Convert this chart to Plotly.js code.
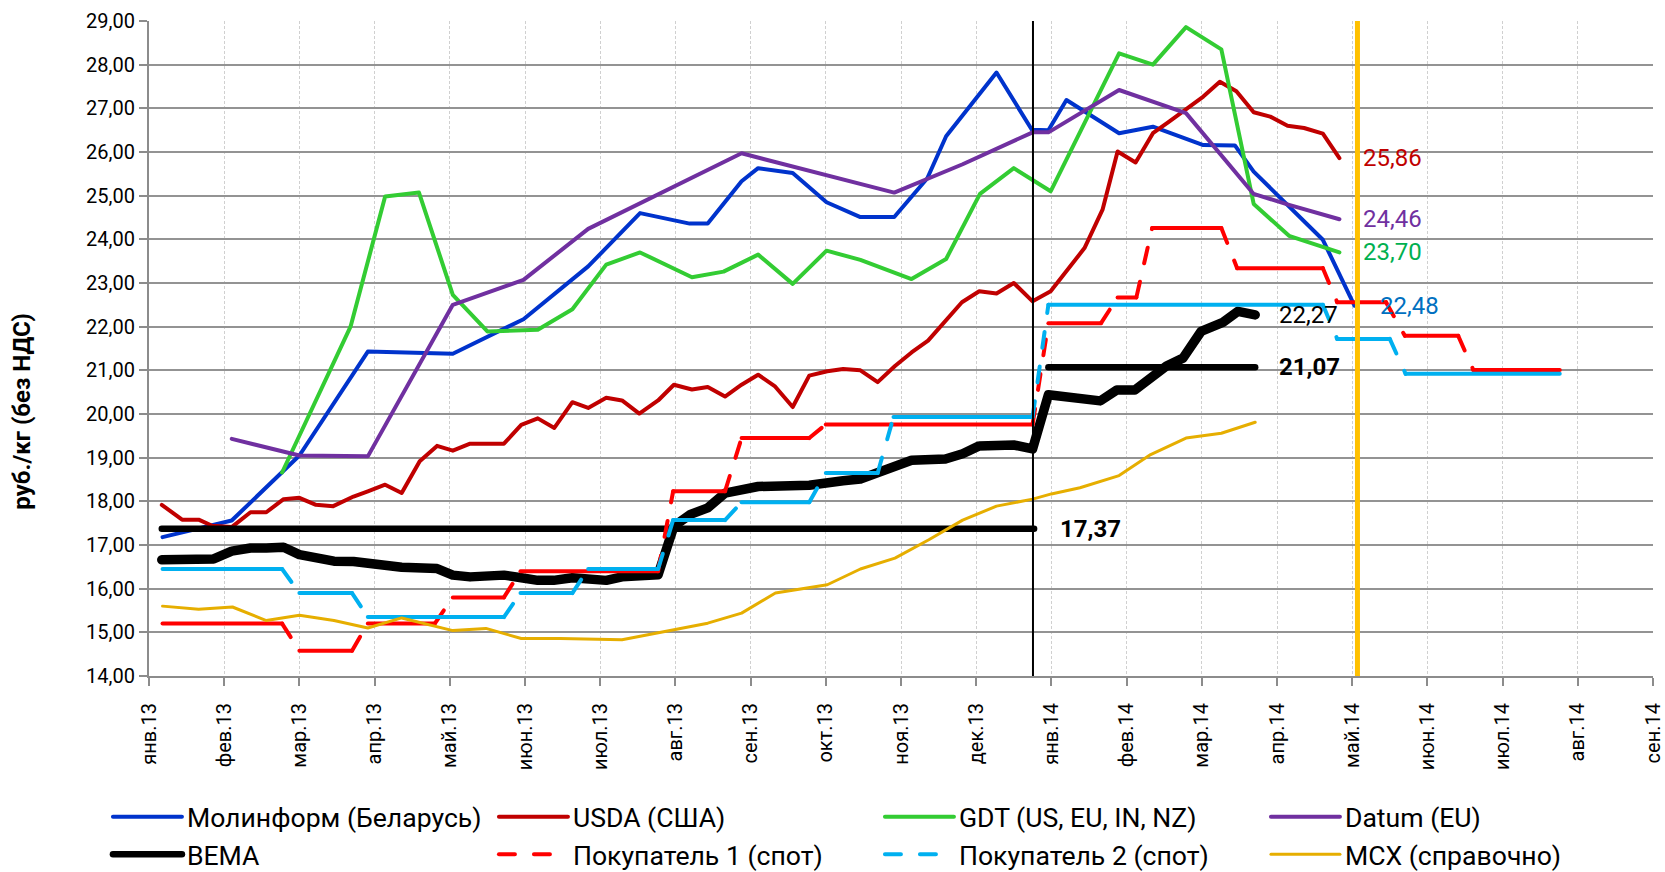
<!DOCTYPE html>
<html>
<head>
<meta charset="utf-8">
<script src="https://cdn.plot.ly/plotly-3.0.1.min.js"></script>
<style>
html,body{margin:0;padding:0;background:#ffffff;}
#chart{width:1665px;height:872px;}
.js-plotly-plot .scatterlayer .js-line,
.js-plotly-plot .legendlines .js-line{stroke-linecap:round;stroke-linejoin:round;}
</style>
</head>
<body>
<div id="chart"></div>
<script>
// ---- axis labels (x = month index, 0 = Jan 2013) ----
const monthIdx = [0,1,2,3,4,5,6,7,8,9,10,11,12,13,14,15,16,17,18,19,20];
const monthLabels = ['янв.13','фев.13','мар.13','апр.13','май.13','июн.13','июл.13','авг.13','сен.13','окт.13','ноя.13','дек.13',
                     'янв.14','фев.14','мар.14','апр.14','май.14','июн.14','июл.14','авг.14','сен.14'];

// ---- series ----
const molX = [0.18,1.10,2.00,2.91,4.04,4.98,5.84,6.53,7.19,7.43,7.88,8.10,8.56,9.01,9.46,9.91,10.35,10.60,11.27,11.74,11.96,12.20,12.90,13.35,14.02,14.44,14.69,15.61,16.03];
const molY = [17.18,17.56,19.05,21.43,21.38,22.17,23.38,24.60,24.36,24.36,25.33,25.63,25.52,24.85,24.51,24.51,25.40,26.36,27.82,26.51,26.50,27.19,26.43,26.58,26.16,26.15,25.55,23.99,22.48];

const usdaX = [0.17,0.44,0.66,0.84,1.10,1.35,1.56,1.79,2.00,2.22,2.45,2.72,2.91,3.14,3.36,3.60,3.83,4.04,4.27,4.49,4.72,4.95,5.17,5.39,5.63,5.84,6.08,6.29,6.52,6.77,6.98,7.22,7.43,7.66,7.88,8.10,8.32,8.56,8.78,9.02,9.23,9.46,9.69,9.92,10.14,10.36,10.56,10.81,11.04,11.27,11.50,11.75,11.99,12.21,12.44,12.68,12.88,13.12,13.35,13.57,13.79,14.02,14.24,14.46,14.69,14.91,15.14,15.36,15.61,15.83];
const usdaY = [17.92,17.58,17.58,17.44,17.41,17.75,17.75,18.05,18.08,17.92,17.89,18.11,18.23,18.38,18.19,18.92,19.27,19.16,19.32,19.31,19.32,19.75,19.90,19.68,20.27,20.14,20.37,20.31,20.01,20.31,20.67,20.56,20.62,20.40,20.67,20.90,20.64,20.16,20.88,20.98,21.03,21.00,20.73,21.10,21.41,21.68,22.08,22.56,22.81,22.76,23.00,22.58,22.81,23.30,23.80,24.68,26.01,25.76,26.43,26.70,26.98,27.27,27.61,27.39,26.91,26.81,26.60,26.55,26.42,25.86];

const gdtX = [1.77,2.68,3.14,3.59,4.04,4.50,5.17,5.63,6.08,6.53,7.22,7.64,8.10,8.56,9.01,9.46,10.14,10.60,11.05,11.50,11.99,12.90,13.35,13.79,14.26,14.69,15.16,15.83];
const gdtY = [18.66,22.00,24.98,25.07,22.73,21.89,21.93,22.40,23.42,23.70,23.13,23.26,23.65,22.98,23.74,23.53,23.09,23.55,25.04,25.63,25.10,28.26,28.00,28.86,28.35,24.81,24.08,23.70];

const datumX = [1.10,2.00,2.91,4.04,4.98,5.84,7.88,9.91,10.82,11.75,11.96,12.90,13.79,14.69,15.16,15.83];
const datumY = [19.43,19.05,19.03,22.50,23.07,24.24,25.97,25.07,25.72,26.45,26.45,27.42,26.89,25.04,24.79,24.46];

const bemaX = [0.17,0.42,0.86,1.10,1.35,1.56,1.79,2.00,2.23,2.46,2.72,2.91,3.14,3.36,3.83,4.04,4.27,4.72,4.95,5.17,5.38,5.63,6.08,6.29,6.77,6.98,7.20,7.43,7.66,7.88,8.10,8.78,9.02,9.23,9.46,9.69,10.14,10.59,10.82,11.04,11.27,11.50,11.75,11.96,12.65,12.87,13.11,13.53,13.75,13.99,14.28,14.48,14.71];
const bemaY = [16.66,16.67,16.68,16.86,16.93,16.93,16.95,16.78,16.68,16.63,16.62,16.59,16.50,16.49,16.46,16.31,16.27,16.31,16.25,16.19,16.19,16.25,16.19,16.27,16.32,17.43,17.70,17.85,18.19,18.28,18.34,18.37,18.45,18.47,18.51,18.65,18.94,18.97,19.09,19.27,19.27,19.29,19.20,20.44,20.30,20.55,20.55,21.10,21.28,21.89,22.10,22.35,22.27];

// BEMA reference levels: [start, end, value]
const bemaRefStart = [0.17, 11.96];
const bemaRefEnd   = [11.77, 14.71];
const bemaRefValue = [17.37, 21.07];

const buyer1X = [0.18,1.77,2.00,2.70,2.91,3.80,4.04,4.72,4.94,6.77,6.97,7.66,7.88,8.78,9.00,11.75,11.96,12.66,12.88,13.13,13.34,14.26,14.47,15.61,15.80,16.45,16.70,17.41,17.61,18.76];
const buyer1Y = [15.20,15.20,14.58,14.58,15.20,15.20,15.80,15.80,16.40,16.40,18.23,18.23,19.45,19.45,19.76,19.76,22.08,22.08,22.67,22.67,24.26,24.26,23.34,23.34,22.56,22.56,21.79,21.79,21.01,21.01];

const buyer2X = [0.18,1.77,2.00,2.70,2.91,4.72,4.94,5.63,5.84,6.77,6.97,7.66,7.88,8.78,9.00,9.69,9.90,11.75,11.96,15.61,15.80,16.50,16.71,18.76];
const buyer2Y = [16.45,16.45,15.90,15.90,15.35,15.35,15.90,15.90,16.45,16.45,17.57,17.57,17.98,17.98,18.65,18.65,19.93,19.93,22.50,22.50,21.72,21.72,20.92,20.92];

const mcxX = [0.18,0.66,1.11,1.56,2.00,2.46,2.91,3.36,4.04,4.48,4.95,5.47,6.29,7.43,7.88,8.33,9.02,9.46,9.92,10.37,10.82,11.27,11.75,12.00,12.38,12.90,13.32,13.79,14.26,14.71];
const mcxY = [15.60,15.53,15.58,15.27,15.39,15.27,15.10,15.33,15.04,15.09,14.86,14.86,14.83,15.21,15.44,15.90,16.09,16.45,16.70,17.12,17.57,17.89,18.05,18.17,18.31,18.59,19.07,19.45,19.56,19.81];

// vertical marker lines (month index)
const markerX = [11.755, 16.07];

// ---- helpers ----
const FONT = 'Roboto, "Noto Sans", "DejaVu Sans", sans-serif';
const fmt = v => v.toFixed(2).replace('.', ',');
const last = a => a[a.length - 1];

function splitSteps(xs, ys) {
  const flat = {x: [], y: []}, step = {x: [], y: []};
  for (let i = 0; i < xs.length - 1; i++) {
    const t = (ys[i] === ys[i + 1]) ? flat : step;
    t.x.push(xs[i], xs[i + 1], null);
    t.y.push(ys[i], ys[i + 1], null);
  }
  return {flat, step};
}

function line(name, x, y, color, width, extra) {
  return Object.assign({type: 'scatter', mode: 'lines', name: name, x: x, y: y,
    line: {color: color, width: width}, hoverinfo: 'skip'}, extra || {});
}

const b1 = splitSteps(buyer1X, buyer1Y);
const b2 = splitSteps(buyer2X, buyer2Y);

const refX = [], refY = [];
bemaRefValue.forEach((v, i) => { refX.push(bemaRefStart[i], bemaRefEnd[i], null); refY.push(v, v, null); });

const C = {mol: '#0033CC', usda: '#C00000', gdt: '#33CC33', datum: '#7030A0', bema: '#000000',
           b1: '#FF0000', b2: '#00B0F0', mcx: '#E6AE00'};
const W = 4;

const traces = [
  line('Молинформ (Беларусь)', molX, molY, C.mol, W, {legendrank: 1}),
  line('USDA (США)', usdaX, usdaY, C.usda, W, {legendrank: 2}),
  line('GDT (US, EU, IN, NZ)', gdtX, gdtY, C.gdt, W, {legendrank: 3}),
  line('Datum (EU)', datumX, datumY, C.datum, W, {legendrank: 4}),
  line('BEMA', refX, refY, C.bema, 6.5, {legendrank: 5, legendgroup: 'bema'}),
  line('BEMA', bemaX, bemaY, C.bema, 9.5, {legendgroup: 'bema', showlegend: false}),
  line('Покупатель 1 (спот)', b1.flat.x, b1.flat.y, C.b1, W, {legendgroup: 'b1', showlegend: false}),
  line('Покупатель 1 (спот)', b1.step.x, b1.step.y, C.b1, W, {legendgroup: 'b1', legendrank: 6}),
  line('Покупатель 2 (спот)', b2.flat.x, b2.flat.y, C.b2, W, {legendgroup: 'b2', showlegend: false}),
  line('Покупатель 2 (спот)', b2.step.x, b2.step.y, C.b2, W, {legendgroup: 'b2', legendrank: 7}),
  line('МСХ (справочно)', mcxX, mcxY, C.mcx, 3, {legendrank: 8})
];
traces[7].line.dash = '16px,19px';
traces[9].line.dash = '16px,19px';

// end-value labels
const endLabels = [
  {x: last(usdaX),  y: last(usdaY),  color: '#C00000', bold: false, shift: 22},
  {x: last(datumX), y: last(datumY), color: '#7030A0', bold: false, shift: 22},
  {x: last(gdtX),   y: last(gdtY),   color: '#00B050', bold: false, shift: 22},
  {x: last(molX),   y: last(molY),   color: '#0070C0', bold: false, shift: 24},
  {x: last(bemaX),  y: last(bemaY),  color: '#000000', bold: false, shift: 22},
  {x: bemaRefEnd[1], y: bemaRefValue[1], color: '#000000', bold: true, shift: 22},
  {x: bemaRefEnd[0], y: bemaRefValue[0], color: '#000000', bold: true, shift: 24}
];

const annotations = endLabels.map(l => ({
  x: l.x, y: l.y, xref: 'x', yref: 'y', text: fmt(l.y), showarrow: false,
  xanchor: 'left', yanchor: 'middle', xshift: l.shift,
  font: {family: FONT, size: 24, color: l.color, weight: l.bold ? 700 : 400}
}));
annotations.push({
  text: 'руб./кг (без НДС)', xref: 'paper', yref: 'paper', x: -0.0845, y: 0.405,
  xanchor: 'center', yanchor: 'middle', textangle: -90, showarrow: false,
  font: {family: FONT, size: 24, color: '#000000', weight: 700}
});

const shapes = [
  {type: 'line', xref: 'x', yref: 'paper', x0: markerX[0], x1: markerX[0], y0: 0, y1: 1,
   line: {color: '#000000', width: 2}, layer: 'above'},
  {type: 'line', xref: 'x', yref: 'paper', x0: markerX[1], x1: markerX[1], y0: 0, y1: 1,
   line: {color: '#FFC000', width: 5}, layer: 'above'}
];

const layout = {
  width: 1665, height: 872,
  margin: {l: 149, r: 12, t: 21, b: 196, autoexpand: false},
  paper_bgcolor: '#ffffff', plot_bgcolor: '#ffffff',
  separators: ', ',
  font: {family: FONT, size: 20, color: '#000000'},
  showlegend: true,
  xaxis: {
    range: [0, 20], tickmode: 'array', tickvals: monthIdx, ticktext: monthLabels, tickangle: -90,
    showgrid: true, gridcolor: '#D0D0D0', gridwidth: 1, griddash: '3px,2px',
    showline: true, linecolor: '#8C8C8C', linewidth: 2,
    ticks: 'outside', ticklen: 8, tickwidth: 2, tickcolor: '#8C8C8C', ticklabelstandoff: 9,
    tickfont: {family: FONT, size: 20, color: '#000000'}, zeroline: false, fixedrange: true
  },
  yaxis: {
    range: [14, 29], tick0: 14, dtick: 1, tickformat: '.2f',
    showgrid: true, gridcolor: '#939393', gridwidth: 2,
    showline: true, linecolor: '#8C8C8C', linewidth: 2,
    ticks: 'outside', ticklen: 8, tickwidth: 2, tickcolor: '#8C8C8C',
    tickfont: {family: FONT, size: 20, color: '#000000'}, zeroline: false, fixedrange: true
  },
  legend: {
    orientation: 'h', x: -0.0273, xanchor: 'left', y: -0.1786, yanchor: 'top',
    entrywidth: 302, entrywidthmode: 'pixels', itemwidth: 69,
    font: {family: FONT, size: 26.6, color: '#000000'}, bgcolor: 'rgba(0,0,0,0)',
    traceorder: 'normal', itemclick: false, itemdoubleclick: false
  },
  annotations: annotations,
  shapes: shapes
};

Plotly.newPlot('chart', traces, layout, {displayModeBar: false, staticPlot: true});
</script>
</body>
</html>
